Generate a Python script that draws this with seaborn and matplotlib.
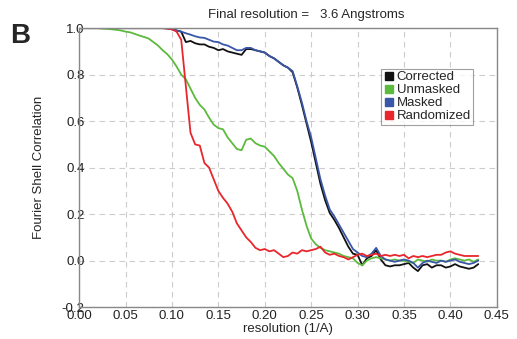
import numpy as np
import pandas as pd
import seaborn as sns
import matplotlib
matplotlib.use('Agg')
import matplotlib.pyplot as plt
from matplotlib.lines import Line2D

# FSC curves sampled every 0.005 1/A from 0 to 0.43
step = 0.005
series = ['Corrected', 'Unmasked', 'Masked', 'Randomized']
colors = ['#111111', '#5cba3c', '#3a56a8', '#e8262c']

corrected = [1.0] * 19 + [0.999, 0.995, 0.99, 0.985, 0.94, 0.945, 0.935, 0.93, 0.93, 0.92, 0.915,
             0.905, 0.91, 0.90, 0.895, 0.89, 0.885, 0.91, 0.91, 0.905, 0.90,
             0.895, 0.88, 0.87, 0.855, 0.84, 0.83, 0.81, 0.745, 0.67, 0.59,
             0.51, 0.42, 0.33, 0.26, 0.205, 0.175, 0.14, 0.10, 0.06, 0.03,
             0.025, -0.02, 0.01, 0.02, 0.045, 0.005, -0.02, -0.025, -0.02, -0.02,
             -0.015, -0.01, -0.03, -0.045, -0.02, -0.015, -0.03, -0.02, -0.02, -0.03,
             -0.025, -0.015, -0.025, -0.03, -0.035, -0.03, -0.015]
unmasked = [1.0, 1.0, 1.0, 1.0, 1.0, 0.998, 0.997, 0.995, 0.993, 0.99,
            0.985, 0.982, 0.975, 0.968, 0.962, 0.955, 0.94, 0.925, 0.905, 0.888,
            0.865, 0.835, 0.80, 0.78, 0.74, 0.70, 0.67, 0.65, 0.615, 0.585,
            0.57, 0.565, 0.53, 0.505, 0.48, 0.475, 0.52, 0.525, 0.505, 0.495,
            0.49, 0.47, 0.45, 0.42, 0.395, 0.37, 0.355, 0.30, 0.22, 0.15,
            0.095, 0.07, 0.055, 0.045, 0.04, 0.035, 0.03, 0.02, 0.015, 0.01,
            -0.01, -0.02, 0.0, 0.01, 0.015, 0.01, 0.005, 0.0, 0.005, 0.0,
            0.0, -0.005, -0.01, 0.005, 0.0, -0.005, 0.005, 0.0, 0.0, -0.005,
            0.005, 0.01, 0.005, 0.0, 0.005, -0.005, 0.005]
masked = [1.0] * 19 + [0.999, 0.995, 0.99, 0.985, 0.978, 0.972, 0.965, 0.96, 0.958, 0.95, 0.942,
          0.94, 0.93, 0.925, 0.915, 0.905, 0.905, 0.915, 0.915, 0.905, 0.90,
          0.895, 0.88, 0.87, 0.855, 0.84, 0.83, 0.815, 0.75, 0.68, 0.60,
          0.53, 0.44, 0.35, 0.28, 0.22, 0.19, 0.155, 0.12, 0.085, 0.05,
          0.035, 0.02, 0.015, 0.03, 0.055, 0.02, 0.005, 0.0, -0.005, 0.0,
          0.005, 0.0, -0.01, -0.03, -0.01, 0.0, -0.005, -0.01, 0.0, -0.005,
          0.0, 0.005, -0.005, -0.01, -0.015, -0.01, 0.0]
randomized = [1.0] * 19 + [0.998, 0.995, 0.985, 0.95, 0.75, 0.55, 0.50, 0.495, 0.42, 0.40, 0.35,
              0.30, 0.27, 0.245, 0.21, 0.16, 0.13, 0.10, 0.08, 0.055, 0.045,
              0.05, 0.04, 0.045, 0.03, 0.015, 0.02, 0.035, 0.03, 0.045, 0.04,
              0.045, 0.05, 0.06, 0.035, 0.025, 0.03, 0.02, 0.015, 0.005, 0.015,
              0.025, 0.03, 0.02, 0.025, 0.03, 0.02, 0.025, 0.02, 0.025, 0.02,
              0.025, 0.01, 0.02, 0.015, 0.02, 0.015, 0.02, 0.025, 0.025, 0.035,
              0.04, 0.03, 0.025, 0.02, 0.02, 0.02, 0.02]

rows = []
for name, vals in zip(series, [corrected, unmasked, masked, randomized]):
    for i, v in enumerate(vals):
        rows.append((i * step, v, name))
df = pd.DataFrame(rows, columns=['resolution', 'fsc', 'curve'])

sns.set_style('white')
plt.rcParams['font.family'] = ['Liberation Sans', 'DejaVu Sans']

fig = plt.figure(figsize=(5.17, 3.39), dpi=100)
ax = fig.add_axes([0.153, 0.094, 0.808, 0.823])

sns.lineplot(data=df, x='resolution', y='fsc', hue='curve', hue_order=series,
             palette=colors, linewidth=1.3, legend=False, ax=ax, sort=False)

ax.set_xlim(0, 0.45)
ax.set_ylim(-0.2, 1.0)
ax.set_xticks(np.arange(0, 0.451, 0.05))
ax.set_xticklabels([f'{t:.2f}' for t in np.arange(0, 0.451, 0.05)])
ax.set_yticks(np.arange(-0.2, 1.01, 0.2))
ax.set_yticklabels([f'{t:.1f}' for t in np.arange(-0.2, 1.01, 0.2)])
ax.grid(True, color='#cccccc', linestyle=(0, (5, 4)), linewidth=0.8)
for s in ax.spines.values():
    s.set_color('#888888')
    s.set_linewidth(1.0)
ax.tick_params(axis='both', direction='in', length=4, color='#888888',
               labelsize=9.5, labelcolor='#222222')
ax.tick_params(axis='y', pad=-4)
ax.tick_params(axis='x', pad=2)

ax.set_xlabel('resolution (1/A)', fontsize=9.5, labelpad=1)
ax.set_ylabel('Fourier Shell Correlation', fontsize=9.5, labelpad=12)

handles = [Line2D([], [], marker='s', linestyle='none', color=c, markersize=6) for c in colors]
leg = ax.legend(handles, series, loc='upper left', bbox_to_anchor=(0.722, 0.855),
                fontsize=9.5, frameon=True, fancybox=False, borderpad=0.2,
                handletextpad=0.2, labelspacing=0.05, handlelength=0.8,
                borderaxespad=0)
leg.get_frame().set_edgecolor('#888888')
leg.get_frame().set_linewidth(0.8)

fig.text(0.592, 0.955, 'Final resolution =   3.6 Angstroms', ha='center', va='center', fontsize=9.5)
fig.text(0.02, 0.895, 'B', fontsize=20, fontweight='bold', ha='left', va='center')

fig.savefig('out.png', dpi=100)
